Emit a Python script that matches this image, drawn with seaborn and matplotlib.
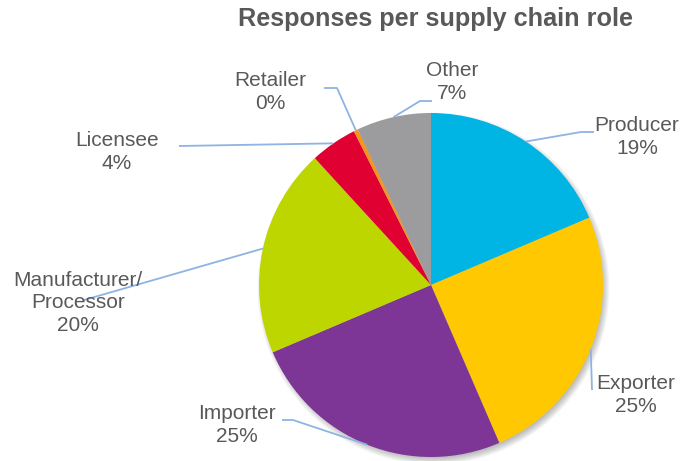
import numpy as np
import matplotlib
matplotlib.use("Agg")
import matplotlib.pyplot as plt
from matplotlib.patches import Circle
import seaborn as sns

# Share of survey responses by supply chain role (percent)
roles = ["Producer", "Exporter", "Importer", "Manufacturer/\nProcessor",
         "Licensee", "Retailer", "Other"]
shares = [18.6, 24.9, 25.1, 19.6, 4.4, 0.4, 7.0]
colors = ["#00B4E3", "#FFC800", "#7D3696", "#BDD600", "#E10032", "#F7941D", "#9C9B9D"]

sns.set_theme(style="white")
plt.rcParams["font.family"] = ["Liberation Sans", "DejaVu Sans"]
TEXT = "#595959"
LEADER = "#8DB4E2"

W, H = 682, 461
fig = plt.figure(figsize=(W / 100, H / 100), dpi=100)
ax = fig.add_axes([0, 0, 1, 1])

cx, cy, r = 431, H - 285, 172

# soft drop shadow under the pie
for k in range(8):
    ax.add_patch(Circle((cx + 2.5, cy - 3.5), r + 4 - k, color="black",
                        alpha=0.035, lw=0, zorder=0))

wedges, _ = ax.pie(shares, colors=sns.color_palette(colors), startangle=90,
                   counterclock=False, center=(cx, cy), radius=r,
                   wedgeprops=dict(linewidth=0, zorder=2), frame=True)
ax.set_xlim(0, W)
ax.set_ylim(0, H)
ax.set_aspect("equal")
ax.axis("off")

# label block centres and leader elbows, in pixel units from the top
layout = {
    "Producer": ((637, 137), [(581, 132), (594, 132)]),
    "Exporter": ((636, 395), [(592, 390)]),
    "Importer": ((237, 425), [(293, 420), (282, 420)]),
    "Manufacturer/\nProcessor": ((78, 303), [(84, 300)]),
    "Licensee": ((117, 152), [(179, 146)]),
    "Retailer": ((270, 92), [(337, 88), (324, 88)]),
    "Other": ((452, 82), [(420, 101), (432, 101)]),
}

for w, name, val in zip(wedges, roles, shares):
    mid = np.deg2rad((w.theta1 + w.theta2) / 2)
    ex, ey = cx + r * np.cos(mid), cy + r * np.sin(mid)
    (tx, ty), elbows = layout[name]
    xs = [ex] + [p[0] for p in elbows]
    ys = [ey] + [H - p[1] for p in elbows]
    ax.plot(xs, ys, color=LEADER, lw=1.3, zorder=3, solid_capstyle="butt")
    ax.text(tx, H - ty, f"{name}\n{round(val)}%", ha="center", va="center",
            fontsize=15, color=TEXT, linespacing=1.25, zorder=4)

ax.text(436, H - 19, "Responses per supply chain role", ha="center", va="center",
        fontsize=18.2, fontweight="bold", color=TEXT)

fig.savefig("out.png", dpi=100, facecolor="white")
